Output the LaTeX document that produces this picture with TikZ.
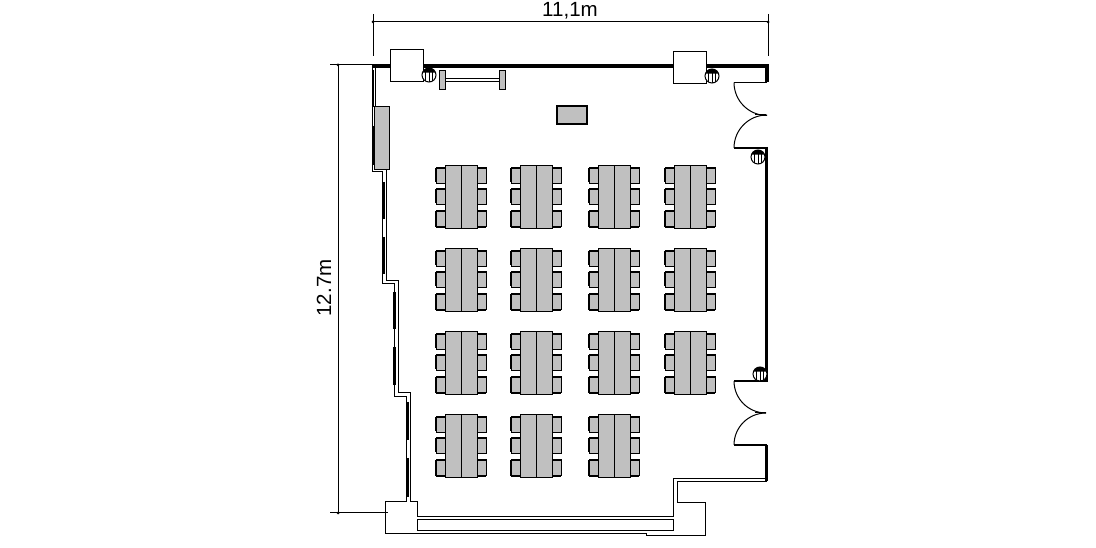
\documentclass[tikz,border=0pt]{standalone}
\usepackage{fontspec}
\setmainfont{Liberation Sans}

\definecolor{tablegray}{RGB}{192,192,192}

\tikzset{
  thinline/.style={line width=0.75pt, black},
  wall/.style={line width=2.8pt, black},
  pane/.style={line width=2pt, black},
  grayblock/.style={thinline, fill=tablegray},
  dimlabel/.style={font=\fontsize{15.4pt}{17pt}\selectfont, inner sep=0pt},
}

% one chair, #1 = left edge, #2 = top edge
\newcommand{\chairblock}[2]{
  \draw[grayblock] (#1,#2) rectangle ++(9,16);
  \draw[line width=1.6pt] (#1,#2) -- ++(9,0);
}
% column with stripes, #1 = centre
\newcommand{\columnmark}[1]{
  \draw[thinline, fill=white] (#1) circle (7);
  \draw[thinline] ($(#1)+(-3.5,-6)$) -- ++(0,12);
  \draw[thinline] ($(#1)+(0,-7)$) -- ++(0,14);
  \draw[thinline] ($(#1)+(3.5,-6)$) -- ++(0,12);
  \fill ($(#1)+(200:7)$) arc (200:340:7) -- cycle;
}
% table with six chairs, #1 = left edge, #2 = top edge
\newcommand{\tablegroup}[2]{
  \chairblock{\the\numexpr#1-9\relax}{\the\numexpr#2+2\relax}
  \chairblock{\the\numexpr#1-9\relax}{\the\numexpr#2+23\relax}
  \chairblock{\the\numexpr#1-9\relax}{\the\numexpr#2+45\relax}
  \chairblock{\the\numexpr#1+32\relax}{\the\numexpr#2+2\relax}
  \chairblock{\the\numexpr#1+32\relax}{\the\numexpr#2+23\relax}
  \chairblock{\the\numexpr#1+32\relax}{\the\numexpr#2+45\relax}
  \draw[line width=1.6pt] (#1-9,#2+61) -- ++(9,0);
  \draw[line width=1.6pt] (#1+32,#2+61) -- ++(9,0);
  \draw[line width=1.3pt] (#1-9,#2+2) -- ++(0,14);
  \draw[line width=1.3pt] (#1-9,#2+23) -- ++(0,14);
  \draw[line width=1.3pt] (#1-9,#2+45) -- ++(0,16);
  \draw[grayblock] (#1,#2) rectangle ++(32,63);
  \draw[thinline] (#1+16,#2) -- ++(0,63);
}

\usetikzlibrary{calc}

\begin{document}
\begin{tikzpicture}[x=0.75pt, y=-0.75pt]
      \useasboundingbox (0,0) rectangle (1096,548);

      % dimension at the top
      \coordinate (topL) at (373,22);
      \coordinate (topR) at (768,22);
      \draw[thinline] (topL) -- (topR);
      \draw[thinline] (373,14) -- (373,56);
      \draw[thinline] (768,14) -- (768,56);
      \fill (topL) circle (1.5);
      \fill (topR) circle (1.5);
      \node[dimlabel] (widthlabel) at (570,10.5) {11,1m};

      % dimension on the left
      \coordinate (leftT) at (338,65);
      \coordinate (leftB) at (338,513);
      \draw[thinline] (leftT) -- (leftB);
      \draw[thinline] (330,65) -- (373,65);
      \draw[thinline] (330,513) -- (388,513);
      \fill (leftT) circle (1.5);
      \fill (leftB) circle (1.5);
      \node[dimlabel, rotate=90] (heightlabel) at (324,288) {12.7m};

      % top wall
      \draw[wall] (372,66) -- (393,66);
      \draw[wall] (419,66) -- (676,66);
      \draw[wall] (704,66) -- (767,66) -- (767,82.5);

      % boxes in the top wall
      \draw[thinline, fill=white] (390,50) rectangle (423,82);
      \draw[thinline, fill=white] (673,52) rectangle (706,84);

      % upper door
      \draw[line width=1.3pt] (767,82.5) -- (734,82.5);
      \draw[thinline] (734,82.5) arc (180:90:33);
      \draw[thinline] (734,148) arc (180:270:33);
      \draw[thinline] (755,115) -- (766,115);
      \draw[line width=1.3pt] (734,148) -- (767,148);

      % right wall
      \draw[wall] (766.5,147) -- (766.5,382);
      \draw[line width=1.3pt] (766.5,381) -- (734,381);

      % lower door
      \draw[thinline] (734,381) arc (180:90:32);
      \draw[thinline] (734,445) arc (180:270:32);
      \draw[thinline] (755,413) -- (766,413);
      \draw[line width=1.3pt] (734,445) -- (767,445);
      \draw[pane] (766.5,445) -- (766.5,481);

      % south east outline
      \draw[thinline] (767,479) -- (673,479) -- (673,517) -- (417,517) -- (417,502) -- (410,502);
      \draw[thinline] (767,482) -- (677,482) -- (677,503) -- (705.5,503) -- (705.5,535.5)
        -- (646,535.5) -- (646,534) -- (385,534) -- (385,502) -- (406.7,502);
      \draw[thinline] (417,520) rectangle (673,531);

      % west wall, outer and inner line
      \draw[thinline] (372.5,66) -- (372.5,172) -- (382.7,172) -- (382.7,284) -- (394,284)
        -- (394,397) -- (406.7,397) -- (406.7,502);
      \draw[thinline] (375.5,66) -- (375.5,170) -- (386,170) -- (386,281) -- (398,281)
        -- (398,393) -- (410,393) -- (410,502);

      % glass parts of the west wall
      \draw[pane] (373,70) -- (373,107);
      \draw[pane] (373,126) -- (373,165);
      \draw[pane] (383.3,182) -- (383.3,219);
      \draw[pane] (383.3,237) -- (383.3,274);
      \draw[pane] (394.7,292) -- (394.7,329);
      \draw[pane] (394.7,347) -- (394.7,385);
      \draw[pane] (407.3,402) -- (407.3,440);
      \draw[pane] (407.3,458) -- (407.3,497);

      % columns
      \columnmark{429,75}
      \columnmark{712,76}
      \columnmark{758,157}
      \columnmark{760,374}

      % stand at the top
      \draw[thinline] (445,79) -- (499,79);
      \draw[thinline] (445,82) -- (499,82);
      \draw[grayblock] (439,71) rectangle (445,90);
      \draw[grayblock] (499,71) rectangle (505,90);

      % gray blocks
      \draw[grayblock] (374.5,107) rectangle (389.7,170);
      \draw[grayblock, line width=1.2pt] (557,106) rectangle (587,124);

      % tables, last row has only three
      \foreach \rowy in {166,249,332}
        \foreach \coly in {445,520,598,674}
          \tablegroup{\coly}{\rowy};
      \foreach \coly in {445,520,598}
        \tablegroup{\coly}{415};
\end{tikzpicture}
\end{document}
